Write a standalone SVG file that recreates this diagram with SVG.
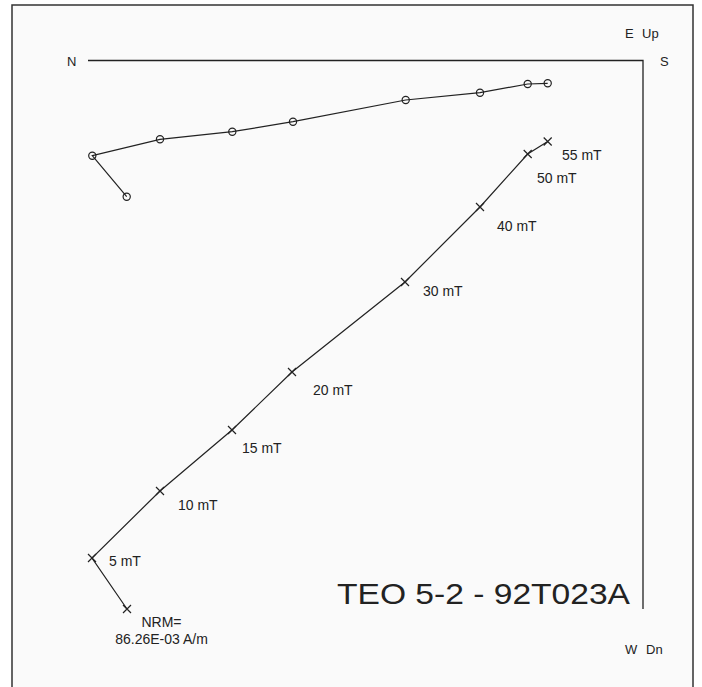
<svg xmlns="http://www.w3.org/2000/svg" width="702" height="687" viewBox="0 0 702 687">
<style>
text{font-family:"Liberation Sans",Arial,sans-serif;fill:#222}
.lbl{font-size:14px}
.ax{font-size:13px}
.axis{stroke:#222;stroke-width:1.3;fill:none}
.path{stroke:#222;stroke-width:1.2;fill:none}
.circ{stroke:#222;stroke-width:1.2;fill:none}
.x{stroke:#222;stroke-width:1.2}
</style>
<defs>
<circle id="o" r="3.6" class="circ"/>
<path id="x" d="M-4,-4L4,4M-4,4L4,-4" class="x"/>
</defs>
<rect x="0" y="0" width="702" height="687" fill="#fff"/>
<rect x="12" y="5" width="681" height="690" fill="#fafafa" stroke="#333" stroke-width="1.5"/>
<g id="axes">
<path class="axis" d="M88,60.5H643V609"/>
<text class="ax" x="67" y="66">N</text>
<text class="ax" x="660" y="66">S</text>
<text class="ax" x="625" y="38">E</text>
<text class="ax" x="642" y="38">Up</text>
<text class="ax" x="625" y="654">W</text>
<text class="ax" x="646" y="654">Dn</text>
</g>
<g id="connectors">
<polyline class="path" points="126.7,196.7 92.3,155.7 160,139.3 232.3,131.7 293,121.7 405.7,100 480,92.7 527.7,84 547.7,83.3"/>
<polyline class="path" points="127,609 92,558 160,491 232,430 292,372 405,282 480,207 527.7,154 547.7,141.5"/>
</g>
<g id="horizontal-points">
<use href="#o" x="126.7" y="196.7"/>
<use href="#o" x="92.3" y="155.7"/>
<use href="#o" x="160" y="139.3"/>
<use href="#o" x="232.3" y="131.7"/>
<use href="#o" x="293" y="121.7"/>
<use href="#o" x="405.7" y="100"/>
<use href="#o" x="480" y="92.7"/>
<use href="#o" x="527.7" y="84"/>
<use href="#o" x="547.7" y="83.3"/>
</g>
<g id="nrm"><use href="#x" x="127" y="609"/>
<text class="lbl" x="161.5" y="627" text-anchor="middle">NRM=</text>
<text class="lbl" x="161.5" y="644" text-anchor="middle">86.26E-03 A/m</text></g>
<g id="s5"><use href="#x" x="92" y="558"/><text class="lbl" x="109" y="566">5 mT</text></g>
<g id="s10"><use href="#x" x="160" y="491"/><text class="lbl" x="178" y="510">10 mT</text></g>
<g id="s15"><use href="#x" x="232" y="430"/><text class="lbl" x="242" y="453">15 mT</text></g>
<g id="s20"><use href="#x" x="292" y="372"/><text class="lbl" x="313" y="395">20 mT</text></g>
<g id="s30"><use href="#x" x="405" y="282"/><text class="lbl" x="423" y="296">30 mT</text></g>
<g id="s40"><use href="#x" x="480" y="207"/><text class="lbl" x="497" y="231">40 mT</text></g>
<g id="s50"><use href="#x" x="527.7" y="154"/><text class="lbl" x="537" y="183">50 mT</text></g>
<g id="s55"><use href="#x" x="547.7" y="141.5"/><text class="lbl" x="562" y="160">55 mT</text></g>
<g id="title"><text x="337" y="604" font-size="30" textLength="293" lengthAdjust="spacingAndGlyphs">TEO 5-2 - 92T023A</text></g>
</svg>
